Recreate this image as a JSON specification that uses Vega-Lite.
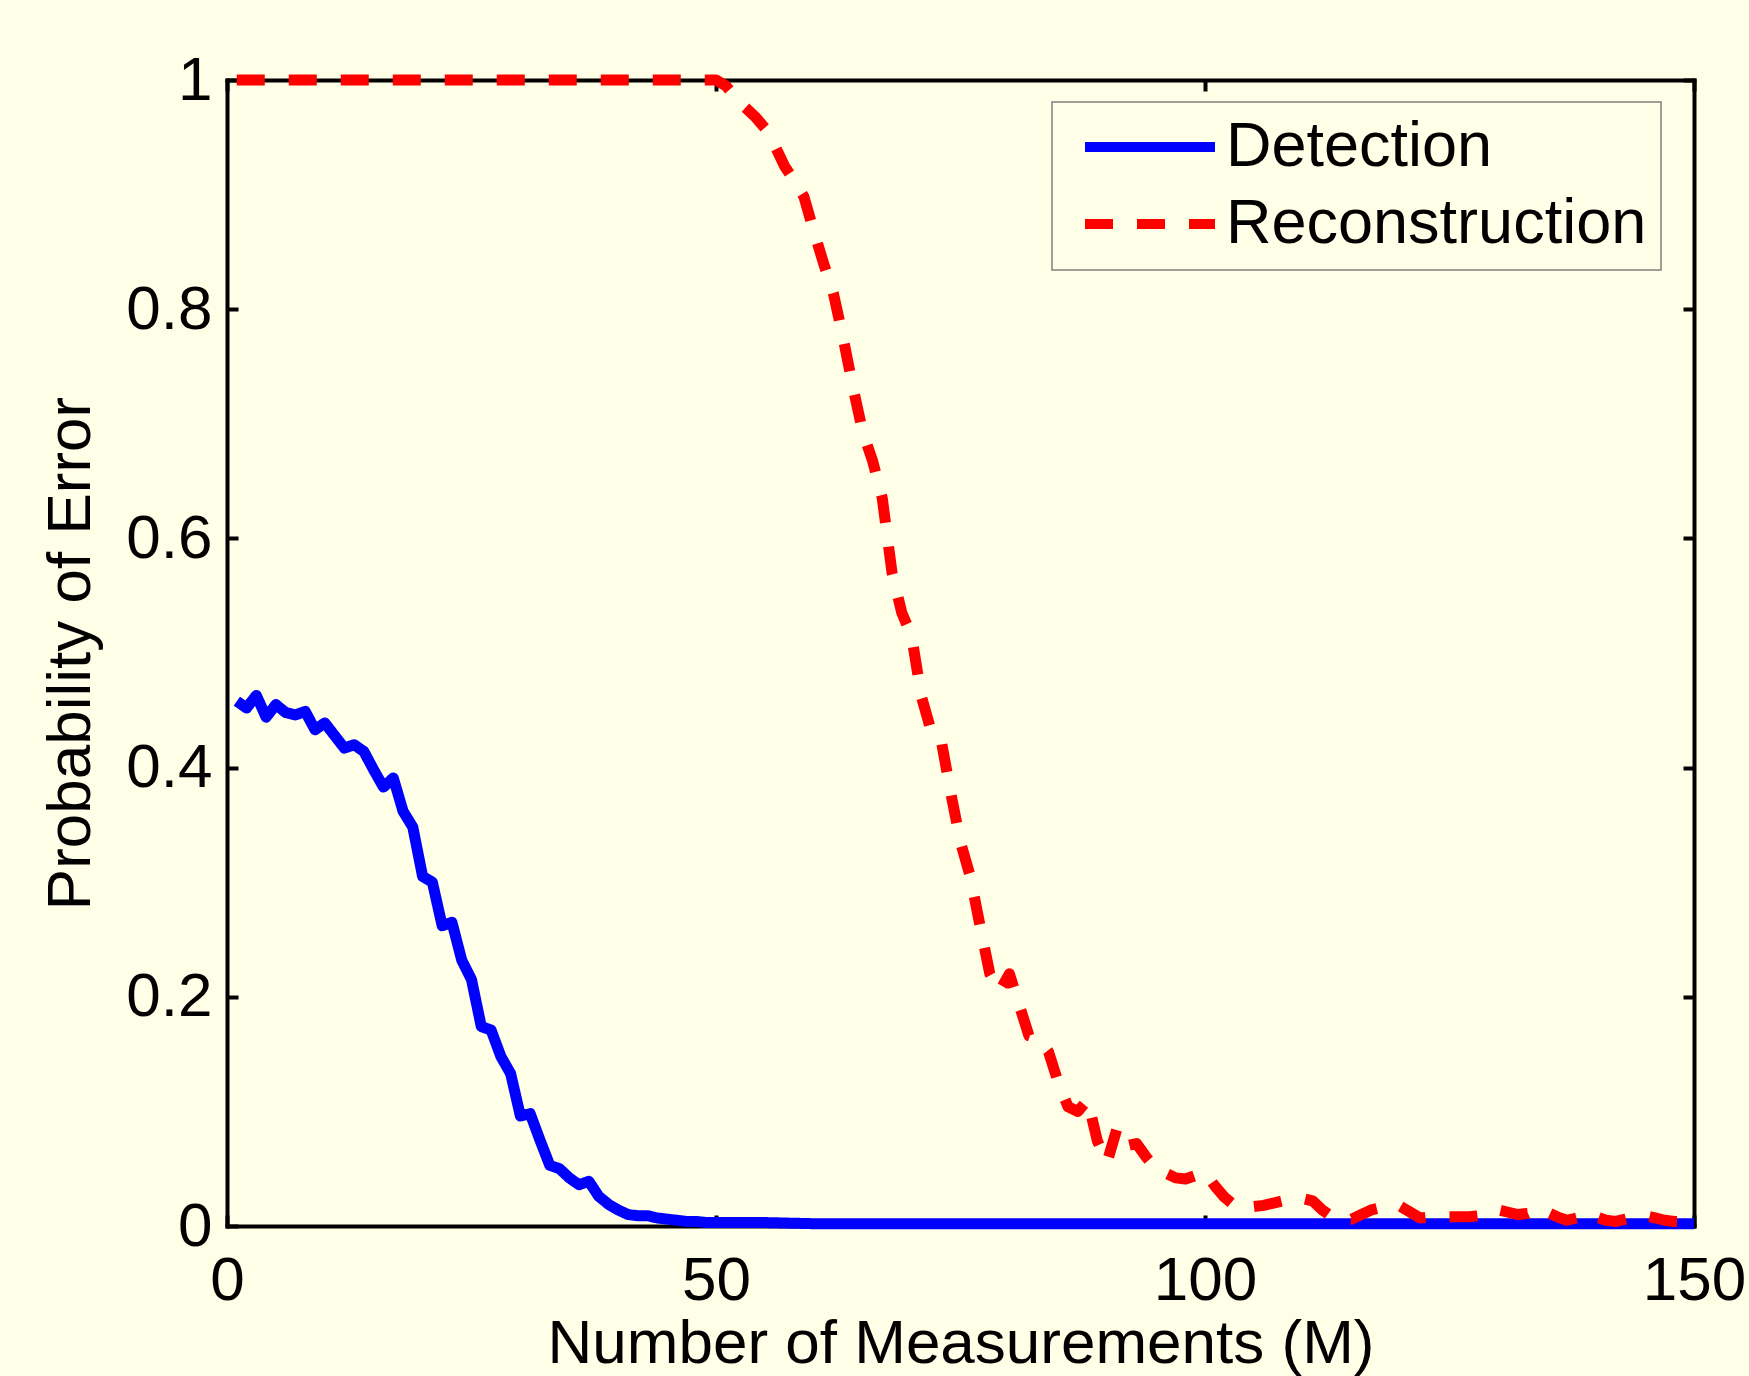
{
  "$schema": "https://vega.github.io/schema/vega-lite/v6.json",
  "width": 1467,
  "height": 1146,
  "autosize": {"type": "none"},
  "padding": {"left": 227, "top": 80, "right": 55, "bottom": 150},
  "background": "#fffee6",
  "config": {
    "view": {"stroke": null},
    "font": "Liberation Sans",
    "axis": {
      "domainColor": "black", "domainWidth": 4, "domainCap": "square",
      "tickColor": "black", "tickWidth": 4, "tickSize": -11,
      "labelFont": "Liberation Sans", "labelFontSize": 62, "labelColor": "black",
      "titleFont": "Liberation Sans", "titleFontSize": 62, "titleFontWeight": "normal", "titleColor": "black",
      "grid": false, "labelFlush": false, "labelOverlap": false, "zindex": 1
    },
    "legend": {
      "labelFont": "Liberation Sans", "labelFontSize": 63, "labelColor": "black", "labelLimit": 0,
      "symbolType": "stroke", "symbolSize": 16900, "symbolStrokeWidth": 10, "clipHeight": 62,
      "symbolOffset": 14, "labelOffset": 6, "padding": 14, "rowPadding": 14,
      "strokeColor": "#808080", "strokeWidth": 1.5, "fillColor": "#fffee6", "cornerRadius": 0
    }
  },
  "datasets": {
    "curves": [
      {"M":1,"P":0.458,"s":"Detection"},{"M":2,"P":0.452,"s":"Detection"},{"M":3,"P":0.463,"s":"Detection"},{"M":4,"P":0.444,"s":"Detection"},{"M":5,"P":0.455,"s":"Detection"},
      {"M":6,"P":0.448,"s":"Detection"},{"M":7,"P":0.446,"s":"Detection"},{"M":8,"P":0.449,"s":"Detection"},{"M":9,"P":0.433,"s":"Detection"},{"M":10,"P":0.439,"s":"Detection"},
      {"M":11,"P":0.428,"s":"Detection"},{"M":12,"P":0.417,"s":"Detection"},{"M":13,"P":0.42,"s":"Detection"},{"M":14,"P":0.414,"s":"Detection"},{"M":15,"P":0.398,"s":"Detection"},
      {"M":16,"P":0.383,"s":"Detection"},{"M":17,"P":0.391,"s":"Detection"},{"M":18,"P":0.362,"s":"Detection"},{"M":19,"P":0.348,"s":"Detection"},{"M":20,"P":0.305,"s":"Detection"},
      {"M":21,"P":0.3,"s":"Detection"},{"M":22,"P":0.262,"s":"Detection"},{"M":23,"P":0.265,"s":"Detection"},{"M":24,"P":0.232,"s":"Detection"},{"M":25,"P":0.215,"s":"Detection"},
      {"M":26,"P":0.174,"s":"Detection"},{"M":27,"P":0.171,"s":"Detection"},{"M":28,"P":0.148,"s":"Detection"},{"M":29,"P":0.133,"s":"Detection"},{"M":30,"P":0.096,"s":"Detection"},
      {"M":31,"P":0.098,"s":"Detection"},{"M":32,"P":0.075,"s":"Detection"},{"M":33,"P":0.053,"s":"Detection"},{"M":34,"P":0.05,"s":"Detection"},{"M":35,"P":0.042,"s":"Detection"},
      {"M":36,"P":0.036,"s":"Detection"},{"M":37,"P":0.039,"s":"Detection"},{"M":38,"P":0.026,"s":"Detection"},{"M":39,"P":0.019,"s":"Detection"},{"M":40,"P":0.014,"s":"Detection"},
      {"M":41,"P":0.01,"s":"Detection"},{"M":42,"P":0.009,"s":"Detection"},{"M":43,"P":0.009,"s":"Detection"},{"M":44,"P":0.007,"s":"Detection"},{"M":45,"P":0.006,"s":"Detection"},
      {"M":46,"P":0.005,"s":"Detection"},{"M":47,"P":0.004,"s":"Detection"},{"M":48,"P":0.004,"s":"Detection"},{"M":49,"P":0.003,"s":"Detection"},{"M":50,"P":0.003,"s":"Detection"},
      {"M":55,"P":0.003,"s":"Detection"},{"M":60,"P":0.002,"s":"Detection"},{"M":70,"P":0.002,"s":"Detection"},{"M":80,"P":0.002,"s":"Detection"},{"M":90,"P":0.002,"s":"Detection"},
      {"M":100,"P":0.002,"s":"Detection"},{"M":110,"P":0.002,"s":"Detection"},{"M":120,"P":0.002,"s":"Detection"},{"M":130,"P":0.002,"s":"Detection"},{"M":140,"P":0.002,"s":"Detection"},
      {"M":150,"P":0.002,"s":"Detection"},
      {"M":1,"P":1,"s":"Reconstruction"},{"M":10,"P":1,"s":"Reconstruction"},{"M":20,"P":1,"s":"Reconstruction"},{"M":30,"P":1,"s":"Reconstruction"},{"M":40,"P":1,"s":"Reconstruction"},
      {"M":50,"P":1,"s":"Reconstruction"},{"M":51,"P":0.995,"s":"Reconstruction"},{"M":52,"P":0.985,"s":"Reconstruction"},{"M":53,"P":0.976,"s":"Reconstruction"},{"M":54,"P":0.968,"s":"Reconstruction"},
      {"M":55,"P":0.958,"s":"Reconstruction"},{"M":56,"P":0.943,"s":"Reconstruction"},{"M":57,"P":0.925,"s":"Reconstruction"},{"M":58,"P":0.912,"s":"Reconstruction"},{"M":59,"P":0.898,"s":"Reconstruction"},
      {"M":60,"P":0.868,"s":"Reconstruction"},{"M":61,"P":0.84,"s":"Reconstruction"},{"M":62,"P":0.814,"s":"Reconstruction"},{"M":63,"P":0.775,"s":"Reconstruction"},{"M":64,"P":0.732,"s":"Reconstruction"},
      {"M":65,"P":0.693,"s":"Reconstruction"},{"M":66,"P":0.668,"s":"Reconstruction"},{"M":67,"P":0.635,"s":"Reconstruction"},{"M":68,"P":0.57,"s":"Reconstruction"},{"M":69,"P":0.535,"s":"Reconstruction"},
      {"M":70,"P":0.515,"s":"Reconstruction"},{"M":71,"P":0.462,"s":"Reconstruction"},{"M":72,"P":0.432,"s":"Reconstruction"},{"M":73,"P":0.425,"s":"Reconstruction"},{"M":74,"P":0.378,"s":"Reconstruction"},
      {"M":75,"P":0.335,"s":"Reconstruction"},{"M":76,"P":0.305,"s":"Reconstruction"},{"M":77,"P":0.262,"s":"Reconstruction"},{"M":78,"P":0.22,"s":"Reconstruction"},{"M":79,"P":0.205,"s":"Reconstruction"},
      {"M":80,"P":0.22,"s":"Reconstruction"},{"M":81,"P":0.193,"s":"Reconstruction"},{"M":82,"P":0.166,"s":"Reconstruction"},{"M":83,"P":0.163,"s":"Reconstruction"},{"M":84,"P":0.152,"s":"Reconstruction"},
      {"M":85,"P":0.125,"s":"Reconstruction"},{"M":86,"P":0.104,"s":"Reconstruction"},{"M":87,"P":0.1,"s":"Reconstruction"},{"M":88,"P":0.11,"s":"Reconstruction"},{"M":89,"P":0.074,"s":"Reconstruction"},
      {"M":90,"P":0.056,"s":"Reconstruction"},{"M":91,"P":0.085,"s":"Reconstruction"},{"M":92,"P":0.07,"s":"Reconstruction"},{"M":93,"P":0.072,"s":"Reconstruction"},{"M":94,"P":0.06,"s":"Reconstruction"},
      {"M":95,"P":0.05,"s":"Reconstruction"},{"M":96,"P":0.046,"s":"Reconstruction"},{"M":97,"P":0.042,"s":"Reconstruction"},{"M":98,"P":0.041,"s":"Reconstruction"},{"M":99,"P":0.044,"s":"Reconstruction"},
      {"M":100,"P":0.047,"s":"Reconstruction"},{"M":101,"P":0.035,"s":"Reconstruction"},{"M":102,"P":0.025,"s":"Reconstruction"},{"M":103,"P":0.018,"s":"Reconstruction"},{"M":104,"P":0.016,"s":"Reconstruction"},
      {"M":105,"P":0.017,"s":"Reconstruction"},{"M":106,"P":0.018,"s":"Reconstruction"},{"M":107,"P":0.02,"s":"Reconstruction"},{"M":108,"P":0.022,"s":"Reconstruction"},{"M":109,"P":0.023,"s":"Reconstruction"},
      {"M":110,"P":0.024,"s":"Reconstruction"},{"M":111,"P":0.022,"s":"Reconstruction"},{"M":112,"P":0.014,"s":"Reconstruction"},{"M":113,"P":0.008,"s":"Reconstruction"},{"M":114,"P":0.007,"s":"Reconstruction"},
      {"M":115,"P":0.006,"s":"Reconstruction"},{"M":116,"P":0.01,"s":"Reconstruction"},{"M":117,"P":0.014,"s":"Reconstruction"},{"M":118,"P":0.016,"s":"Reconstruction"},{"M":119,"P":0.017,"s":"Reconstruction"},
      {"M":120,"P":0.017,"s":"Reconstruction"},{"M":121,"P":0.012,"s":"Reconstruction"},{"M":122,"P":0.007,"s":"Reconstruction"},{"M":123,"P":0.008,"s":"Reconstruction"},{"M":124,"P":0.008,"s":"Reconstruction"},
      {"M":125,"P":0.008,"s":"Reconstruction"},{"M":126,"P":0.008,"s":"Reconstruction"},{"M":127,"P":0.008,"s":"Reconstruction"},{"M":128,"P":0.009,"s":"Reconstruction"},{"M":129,"P":0.012,"s":"Reconstruction"},
      {"M":130,"P":0.014,"s":"Reconstruction"},{"M":131,"P":0.012,"s":"Reconstruction"},{"M":132,"P":0.01,"s":"Reconstruction"},{"M":133,"P":0.011,"s":"Reconstruction"},{"M":134,"P":0.015,"s":"Reconstruction"},
      {"M":135,"P":0.012,"s":"Reconstruction"},{"M":136,"P":0.008,"s":"Reconstruction"},{"M":137,"P":0.005,"s":"Reconstruction"},{"M":138,"P":0.007,"s":"Reconstruction"},{"M":139,"P":0.011,"s":"Reconstruction"},
      {"M":140,"P":0.008,"s":"Reconstruction"},{"M":141,"P":0.005,"s":"Reconstruction"},{"M":142,"P":0.004,"s":"Reconstruction"},{"M":143,"P":0.006,"s":"Reconstruction"},{"M":144,"P":0.008,"s":"Reconstruction"},
      {"M":145,"P":0.009,"s":"Reconstruction"},{"M":146,"P":0.007,"s":"Reconstruction"},{"M":147,"P":0.005,"s":"Reconstruction"},{"M":148,"P":0.004,"s":"Reconstruction"},{"M":149,"P":0.004,"s":"Reconstruction"},
      {"M":150,"P":0.004,"s":"Reconstruction"}
    ]
  },
  "data": {"name": "curves"},
  "layer": [
    {
      "mark": {"type": "line", "strokeWidth": 11, "strokeCap": "butt", "strokeJoin": "round"},
      "encoding": {
        "x": {"field": "M", "type": "quantitative", "scale": {"domain": [0, 150], "nice": false},
          "axis": {"orient": "bottom", "values": [0, 50, 100, 150], "title": "Number of Measurements (M)",
            "labelPadding": 35, "titleY": 87, "titleBaseline": "top"}},
        "y": {"field": "P", "type": "quantitative", "scale": {"domain": [0, 1], "nice": false},
          "axis": {"orient": "left", "values": [0, 0.2, 0.4, 0.6, 0.8, 1], "format": "~g", "title": "Probability of Error",
            "labelPadding": 26, "titleX": -125, "titleBaseline": "bottom"}},
        "color": {"field": "s", "type": "nominal",
          "scale": {"domain": ["Detection", "Reconstruction"], "range": ["#0000ff", "#ff0000"]},
          "legend": {"title": null, "orient": "none", "legendX": 825, "legendY": 22}},
        "strokeDash": {"field": "s", "type": "nominal",
          "scale": {"domain": ["Detection", "Reconstruction"], "range": [[1, 0], [28, 24]]},
          "legend": {"title": null, "orient": "none", "legendX": 825, "legendY": 22}}
      }
    },
    {
      "mark": {"type": "line", "opacity": 0},
      "encoding": {
        "x": {"field": "M", "type": "quantitative",
          "axis": {"orient": "top", "values": [0, 50, 100, 150], "labels": false, "title": null}},
        "y": {"field": "P", "type": "quantitative",
          "axis": {"orient": "right", "values": [0, 0.2, 0.4, 0.6, 0.8, 1], "labels": false, "title": null}}
      }
    }
  ],
  "resolve": {"axis": {"x": "independent", "y": "independent"}}
}
